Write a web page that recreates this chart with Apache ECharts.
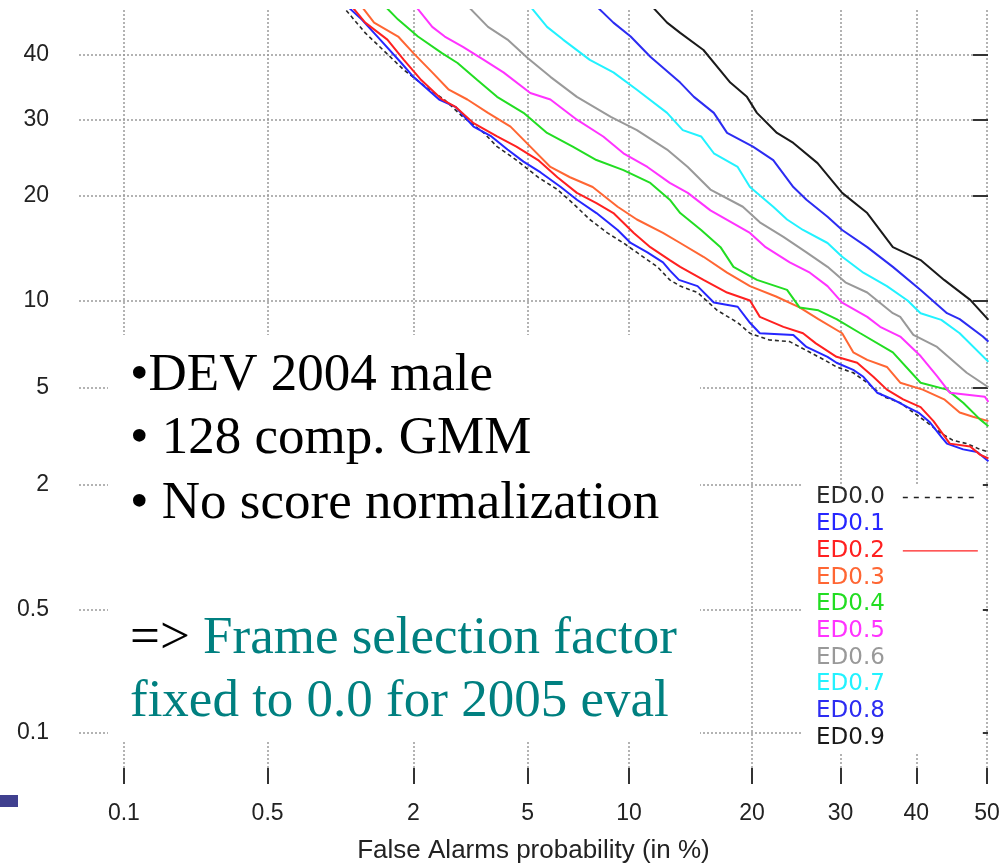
<!DOCTYPE html>
<html>
<head>
<meta charset="utf-8">
<script src="https://cdn.jsdelivr.net/npm/echarts@6.0.0/dist/echarts.min.js"></script>
<style>
  html, body { margin: 0; padding: 0; background: #fff; }
  #chart { width: 1008px; height: 864px; }
</style>
</head>
<body>
<div id="chart"></div>
<script>
// DET curves: miss probability vs false alarm probability, both in %, on normal-deviate axes.
const xTicks = [0.1, 0.5, 2, 5, 10, 20, 30, 40, 50];
const yTicks = [0.1, 0.5, 2, 5, 10, 20, 30, 40];
const xRange = [0.0575, 50.14];
const yRange = [0.06, 47.4];

const seriesNames = ['ED0.0', 'ED0.1', 'ED0.2', 'ED0.3', 'ED0.4', 'ED0.5', 'ED0.6', 'ED0.7', 'ED0.8', 'ED0.9'];
const seriesColors = ['#2a2a2a', '#2626ff', '#ff2020', '#ff6633', '#22dd22', '#ff33ff', '#999999', '#22f2ff', '#2c2cf2', '#1a1a1a'];

// [false alarm %, miss %]
const ed00 = [[1.0,49.1],[1.3,43.6],[1.53,40.8],[1.84,37.6],[2.29,34.5],[2.6,33.0],[3.03,30.4],[3.58,28.1],[3.97,26.2],[4.6,24.4],[5.4,22.2],[6.2,20.7],[6.9,19.1],[7.75,17.3],[8.7,15.9],[9.65,14.9],[10.5,14.0],[11.9,12.7],[12.8,11.6],[13.6,11.1],[15.0,10.6],[16.7,9.3],[18.6,8.47],[19.8,7.8],[21.8,7.4],[24.0,7.3],[26.3,6.7],[28.0,6.3],[29.5,5.94],[31.6,5.66],[33.4,5.2],[35.6,4.6],[37.8,4.37],[39.6,4.0],[41.5,3.66],[43.5,3.3],[45.1,3.1],[47.1,3.0],[49.0,2.84],[50.2,2.77]];
const ed01 = [[1.03,49.1],[1.26,45.8],[1.49,42.5],[1.8,38.7],[2.0,36.5],[2.49,33.0],[2.85,31.9],[3.3,29.0],[3.8,27.6],[4.3,25.8],[4.85,24.2],[5.5,22.8],[6.35,21.0],[7.1,19.5],[8.1,18.0],[9.3,16.2],[10.1,14.9],[11.2,14.0],[12.3,13.1],[12.8,12.4],[13.5,11.6],[15.0,11.1],[16.4,9.85],[18.6,9.55],[19.8,8.46],[20.8,7.8],[24.4,7.7],[25.9,7.0],[28.4,6.46],[29.5,6.15],[31.6,5.8],[32.9,5.47],[34.7,4.77],[36.8,4.5],[38.8,4.2],[40.3,4.0],[41.9,3.66],[43.5,3.2],[44.3,3.0],[46.6,2.84],[48.6,2.77],[50.2,2.53]];
const ed02 = [[1.09,49.1],[1.3,45.3],[1.59,42.5],[1.84,39.2],[2.14,36.0],[2.55,33.0],[2.85,31.9],[3.3,29.5],[3.97,27.6],[4.6,26.2],[5.4,24.4],[6.2,22.2],[7.1,20.3],[8.1,19.1],[9.05,18.0],[10.3,15.9],[11.4,14.5],[12.8,13.3],[13.6,12.7],[15.5,11.6],[17.6,10.6],[19.8,10.0],[20.8,8.85],[23.3,8.2],[25.5,7.8],[27.0,7.2],[29.5,6.46],[32.1,6.15],[34.2,5.47],[36.0,4.9],[38.2,4.5],[40.6,4.2],[42.4,3.7],[44.7,3.0],[47.6,2.92],[49.0,2.7],[50.2,2.6]];
const ed03 = [[1.2,49.1],[1.41,45.3],[1.75,43.0],[2.0,40.3],[2.35,37.2],[2.7,34.5],[3.14,33.0],[3.7,31.0],[4.4,29.0],[5.1,26.2],[5.9,23.5],[6.77,22.2],[7.9,21.0],[9.3,18.7],[10.5,17.3],[12.3,15.9],[13.6,14.9],[15.5,13.6],[17.6,12.2],[19.8,11.1],[22.5,10.3],[25.1,9.5],[27.3,8.7],[30.2,7.8],[31.6,6.7],[33.4,6.3],[36.0,5.94],[37.8,5.2],[40.9,4.9],[43.9,4.5],[46.1,4.0],[48.0,3.85],[50.2,3.7]];
const ed04 = [[1.47,49.1],[1.75,45.8],[2.08,43.0],[2.55,40.3],[2.9,38.7],[3.4,36.0],[3.97,33.4],[4.85,31.0],[5.76,28.1],[6.9,26.2],[8.1,24.4],[9.65,23.1],[11.4,21.5],[12.8,19.5],[13.6,18.0],[15.3,16.2],[17.0,14.5],[18.2,12.7],[20.5,11.6],[23.7,10.8],[25.1,9.5],[27.3,9.3],[29.5,8.7],[32.5,7.8],[36.8,6.7],[40.6,5.2],[44.3,4.9],[46.6,4.37],[49.0,3.76],[50.2,3.53]];
const ed05 = [[1.95,49.1],[2.35,44.6],[2.61,43.0],[3.03,41.3],[3.58,39.2],[4.17,37.2],[5.1,34.0],[5.9,33.0],[7.1,30.0],[8.47,27.6],[9.65,25.3],[11.2,23.5],[12.8,21.5],[14.2,20.3],[16.1,18.3],[19.8,15.9],[21.4,14.5],[24.0,13.1],[26.3,12.2],[28.4,11.1],[30.2,9.85],[33.4,8.85],[35.1,8.2],[37.8,7.6],[40.6,6.5],[42.9,5.5],[44.7,4.77],[49.7,4.6],[50.2,4.4]];
const ed06 = [[3.0,49.1],[3.7,44.6],[4.3,42.5],[5.0,39.5],[5.9,36.5],[7.1,33.4],[8.9,30.4],[10.5,28.5],[12.6,25.8],[14.2,23.5],[16.1,20.7],[19.1,18.7],[20.8,17.0],[23.3,15.5],[25.9,14.0],[28.4,12.7],[30.6,11.4],[33.4,10.6],[36.8,9.1],[37.8,8.85],[39.6,7.7],[42.9,7.0],[47.1,5.66],[50.2,5.0]];
const ed07 = [[4.9,49.1],[5.76,44.6],[6.45,42.5],[7.75,39.2],[9.05,37.2],[10.5,34.5],[12.6,31.0],[13.8,28.5],[15.3,27.6],[16.4,25.3],[18.6,23.5],[19.8,21.0],[22.2,18.7],[23.7,17.3],[25.5,16.2],[28.4,14.9],[30.2,13.6],[32.9,12.2],[36.0,11.1],[38.8,10.0],[40.6,9.1],[43.5,8.65],[46.1,7.8],[50.2,6.2]];
const ed08 = [[7.75,49.1],[9.05,45.3],[10.1,43.0],[11.4,39.7],[13.6,35.6],[14.7,33.4],[16.4,31.0],[17.6,28.1],[20.1,26.2],[22.2,24.4],[24.4,21.0],[25.9,19.5],[28.4,17.6],[30.2,16.2],[33.4,14.5],[36.8,12.7],[40.6,10.8],[44.3,9.1],[46.1,8.7],[49.4,7.6],[50.2,7.3]];
const ed09 = [[11.1,49.1],[12.6,45.3],[13.6,43.6],[15.5,40.8],[17.9,35.6],[19.5,33.4],[20.5,31.0],[22.6,28.1],[24.4,26.7],[27.2,24.0],[30.2,20.3],[33.4,18.0],[36.8,14.5],[40.6,13.3],[43.9,11.6],[47.6,10.05],[50.2,8.65]];

const curves = [ed00, ed01, ed02, ed03, ed04, ed05, ed06, ed07, ed08, ed09];

// Inverse of the standard normal CDF (Acklam's rational approximation).
function probit(p) {
  const a = [-3.969683028665376e+01, 2.209460984245205e+02, -2.759285104469687e+02, 1.383577518672690e+02, -3.066479806614716e+01, 2.506628277459239e+00];
  const b = [-5.447609879822406e+01, 1.615858368580409e+02, -1.556989798598866e+02, 6.680131188771972e+01, -1.328068155288572e+01];
  const c = [-7.784894002430293e-03, -3.223964580411365e-01, -2.400758277161838e+00, -2.549732539343734e+00, 4.374664141464968e+00, 2.938163982698783e+00];
  const d = [7.784695709041462e-03, 3.224671290700398e-01, 2.445134137142996e+00, 3.754408661907416e+00];
  const pl = 0.02425, ph = 1 - pl;
  if (p < pl) {
    const q = Math.sqrt(-2 * Math.log(p));
    return (((((c[0]*q+c[1])*q+c[2])*q+c[3])*q+c[4])*q+c[5]) / ((((d[0]*q+d[1])*q+d[2])*q+d[3])*q+1);
  }
  if (p <= ph) {
    const q = p - 0.5, r = q * q;
    return (((((a[0]*r+a[1])*r+a[2])*r+a[3])*r+a[4])*r+a[5])*q / (((((b[0]*r+b[1])*r+b[2])*r+b[3])*r+b[4])*r+1);
  }
  const q = Math.sqrt(-2 * Math.log(1 - p));
  return -(((((c[0]*q+c[1])*q+c[2])*q+c[3])*q+c[4])*q+c[5]) / ((((d[0]*q+d[1])*q+d[2])*q+d[3])*q+1);
}
const dev = pct => probit(pct / 100);

function tickFormatter(ticks) {
  return function (v) {
    for (const t of ticks) {
      if (Math.abs(dev(t) - v) < 1e-6) return String(t);
    }
    return '';
  };
}

const labelFont = { fontFamily: '"Liberation Sans", Arial, sans-serif', fontSize: 23, color: '#222' };
const gridLine = { show: true, lineStyle: { color: '#9a9a9a', width: 1.5, type: [2, 2] } };

const chart = echarts.init(document.getElementById('chart'), null, { renderer: 'canvas' });

const series = curves.map((pts, i) => ({
  name: seriesNames[i],
  type: 'line',
  data: pts.map(p => [dev(p[0]), dev(p[1])]),
  symbol: 'none',
  showSymbol: false,
  clip: true,
  z: 3,
  lineStyle: {
    color: seriesColors[i],
    width: i === 0 ? 1.6 : 2,
    type: i === 0 ? [4, 3] : 'solid'
  },
  itemStyle: { color: seriesColors[i] },
  emphasis: { disabled: true }
}));

// Legend: coloured names; only ED0.0 and ED0.2 show a line sample.
const legendData = seriesNames.map((n, i) => {
  const item = { name: n, textStyle: { color: seriesColors[i] }, itemStyle: { opacity: 0 } };
  if (i === 0) item.lineStyle = { width: 1.5, type: [5, 6], color: '#222' };
  else if (i === 2) item.lineStyle = { width: 1.3 };
  else item.lineStyle = { opacity: 0 };
  return item;
});

const bodyFont = '53px "Liberation Serif", "Times New Roman", serif';

chart.setOption({
  animation: false,
  backgroundColor: '#fff',
  grid: { left: 79, right: 20, top: 10, bottom: 96, containLabel: false, outerBoundsMode: 'none' },
  xAxis: {
    type: 'value',
    min: dev(xRange[0]),
    max: dev(xRange[1]),
    name: 'False Alarms probability (in %)',
    nameLocation: 'middle',
    nameGap: 70,
    nameTextStyle: { fontFamily: '"Liberation Sans", Arial, sans-serif', fontSize: 26, color: '#222', lineHeight: 26 },
    axisLine: { show: false },
    axisTick: { show: true, length: 16, customValues: xTicks.map(dev), lineStyle: { color: '#333', width: 2 } },
    axisLabel: Object.assign({ margin: 34, customValues: xTicks.map(dev), formatter: tickFormatter(xTicks), lineHeight: 23 }, labelFont),
    splitLine: gridLine
  },
  yAxis: [{
    type: 'value',
    min: dev(yRange[0]),
    max: dev(yRange[1]),
    axisLine: { show: false },
    axisTick: { show: true, length: 14, customValues: yTicks.map(dev), lineStyle: { color: '#333', width: 2 } },
    axisLabel: Object.assign({ margin: 30, customValues: yTicks.map(dev), formatter: tickFormatter(yTicks) }, labelFont),
    splitLine: gridLine
  }, {
    type: 'value',
    position: 'right',
    min: dev(yRange[0]),
    max: dev(yRange[1]),
    axisLine: { show: false },
    axisTick: { show: true, inside: true, length: 11, customValues: yTicks.map(dev), lineStyle: { color: '#333', width: 2 } },
    axisLabel: { show: false },
    splitLine: { show: false }
  }],
  legend: {
    orient: 'vertical',
    left: 803,
    top: 484,
    align: 'right',
    padding: [2, 4, 4, 13],
    backgroundColor: '#fff',
    itemWidth: 75,
    itemHeight: 14,
    itemGap: 3.7,
    selectedMode: false,
    textStyle: { fontFamily: '"DejaVu Sans", sans-serif', fontSize: 23, lineHeight: 23, padding: [0, 13, 0, 0] },
    data: legendData
  },
  graphic: {
    elements: [
      { type: 'rect', z: 1, silent: true, shape: { x: 108, y: 335, width: 592, height: 405 }, style: { fill: '#fff' } },
      { type: 'rect', z: 1, silent: true, shape: { x: 0, y: 795, width: 18, height: 12 }, style: { fill: '#40408f' } },
      { type: 'text', z: 10, silent: true, style: { x: 130, y: 376, text: '\u2022DEV 2004 male', font: bodyFont, fill: '#000', verticalAlign: 'middle' } },
      { type: 'text', z: 10, silent: true, style: { x: 130, y: 439, text: '\u2022 128 comp. GMM', font: bodyFont, fill: '#000', verticalAlign: 'middle' } },
      { type: 'text', z: 10, silent: true, style: { x: 130, y: 504, text: '\u2022 No score normalization', font: bodyFont, fill: '#000', verticalAlign: 'middle' } },
      { type: 'text', z: 10, silent: true, style: { x: 130, y: 639, text: '{a|=> }{b|Frame selection factor}', font: bodyFont, verticalAlign: 'middle',
        rich: { a: { fill: '#000', font: bodyFont }, b: { fill: '#008080', font: bodyFont } } } },
      { type: 'text', z: 10, silent: true, style: { x: 130, y: 702, text: 'fixed to 0.0 for 2005 eval', font: bodyFont, fill: '#008080', verticalAlign: 'middle' } }
    ]
  },
  series: series
});
</script>
</body>
</html>
